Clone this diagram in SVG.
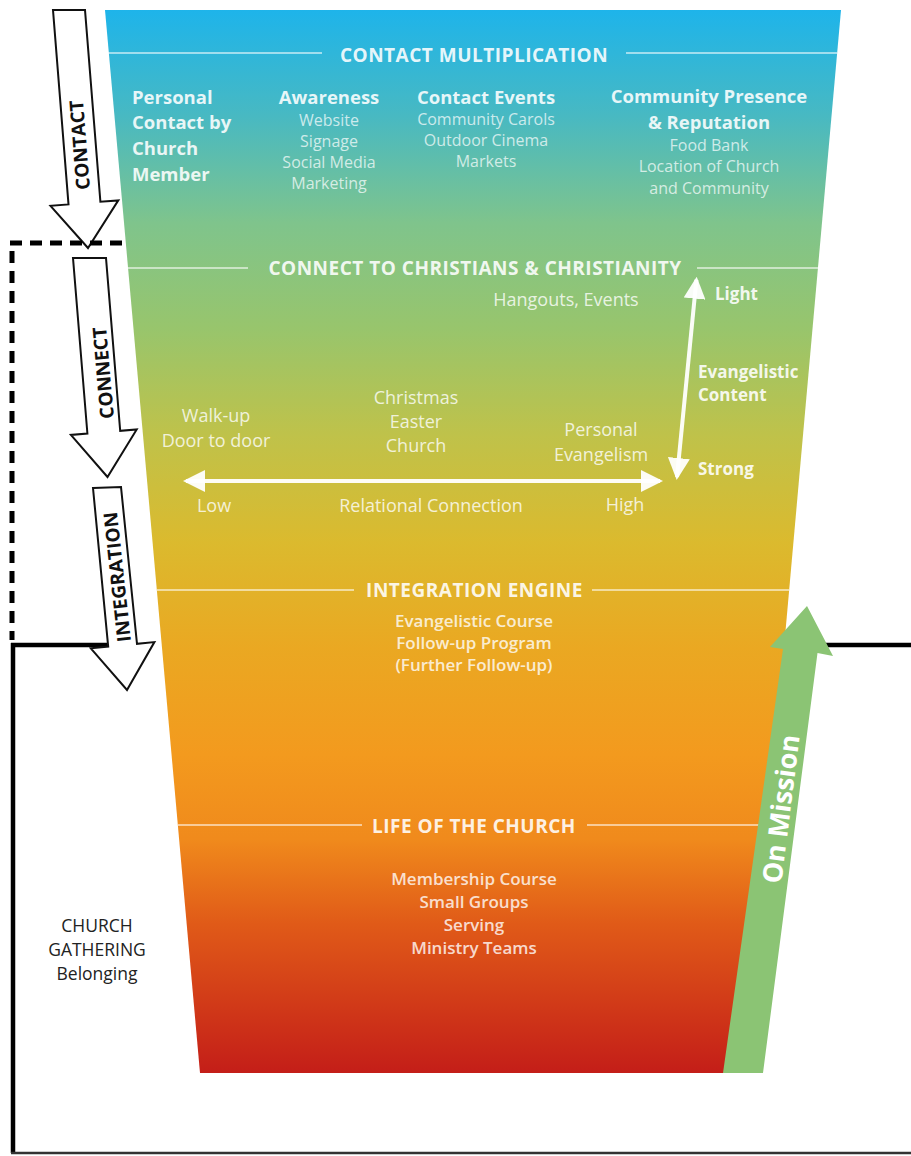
<svg xmlns="http://www.w3.org/2000/svg" width="911" height="1156" viewBox="0 0 911 1156">
<defs>
<linearGradient id="funnelGrad" gradientUnits="userSpaceOnUse" x1="0" y1="10" x2="0" y2="1073">
<stop offset="0" stop-color="#1eb4ea"/>
<stop offset="0.1" stop-color="#48b9c2"/>
<stop offset="0.2" stop-color="#7fc48c"/>
<stop offset="0.3" stop-color="#98c56c"/>
<stop offset="0.4" stop-color="#bfc24a"/>
<stop offset="0.5" stop-color="#dbba2e"/>
<stop offset="0.6" stop-color="#eaa822"/>
<stop offset="0.7" stop-color="#f39a1e"/>
<stop offset="0.78" stop-color="#f08a1c"/>
<stop offset="0.86" stop-color="#e05a18"/>
<stop offset="1" stop-color="#c41e18"/>
</linearGradient>
<marker id="wh" viewBox="0 0 22 22" refX="19" refY="11" markerWidth="22" markerHeight="22" markerUnits="userSpaceOnUse" orient="auto-start-reverse">
<path d="M0,0 L22,11 L0,22 z" fill="#fff" fill-opacity="0.95"/>
</marker>
</defs>
<style>
text { font-family: "Open Sans", "Noto Sans", sans-serif; }
.h { font-size: 19px; font-weight: 700; fill: #fff; fill-opacity: 0.9; letter-spacing: 0.5px; text-anchor: middle; }
.b { font-size: 18.5px; font-weight: 700; fill: #fff; fill-opacity: 0.88; }
.bc { text-anchor: middle; }
.s { font-size: 16px; fill: #fff; fill-opacity: 0.72; text-anchor: middle; }
.m { font-size: 18px; fill: #fff; fill-opacity: 0.8; text-anchor: middle; }
.e { font-size: 17px; font-weight: 700; fill: #fff; fill-opacity: 0.9; }
.sb { font-size: 17px; font-weight: 600; fill: #fff; fill-opacity: 0.8; text-anchor: middle; }
.div { stroke: #fff; stroke-opacity: 0.55; stroke-width: 2; fill: none; }
.stage { fill: #fff; stroke: #111; stroke-width: 2; stroke-linejoin: miter; }
.stage-label { font-size: 19px; font-weight: 700; fill: #111; text-anchor: middle; }
.wline { stroke: #fff; stroke-width: 4; stroke-opacity: 0.95; fill: none; }
.solid { stroke: #000; stroke-width: 4.5; fill: none; }
.dash { stroke: #000; stroke-width: 5; stroke-dasharray: 12 8; fill: none; }
.gather { font-size: 17.5px; fill: #222; text-anchor: middle; }
</style>

<rect x="0" y="0" width="911" height="1156" fill="#fff"/>

<g id="boundary">
<line class="solid" x1="11" y1="645" x2="110" y2="645"/>
<line class="solid" x1="13" y1="643" x2="13" y2="1153"/>
<line class="solid" x1="815" y1="645" x2="911" y2="645"/>
<line x1="11" y1="1153" x2="911" y2="1153" stroke="#333" stroke-width="2.5"/>
</g>

<g id="funnel">
<polygon points="105,10 841,10 746,1073 200,1073" fill="url(#funnelGrad)"/>
</g>

<g id="contact-multiplication">
<line class="div" x1="108" y1="53" x2="322" y2="53"/>
<line class="div" x1="626" y1="53" x2="837" y2="53"/>
<text class="h" x="474" y="62">CONTACT MULTIPLICATION</text>
</g>

<g id="personal-contact">
<text class="b" x="132" y="103.5">Personal</text>
<text class="b" x="132" y="129">Contact by</text>
<text class="b" x="132" y="155">Church</text>
<text class="b" x="132" y="181">Member</text>
</g>

<g id="awareness">
<text class="b bc" x="329" y="104">Awareness</text>
<text class="s" x="329" y="126">Website</text>
<text class="s" x="329" y="147">Signage</text>
<text class="s" x="329" y="168">Social Media</text>
<text class="s" x="329" y="189">Marketing</text>
</g>

<g id="contact-events">
<text class="b bc" x="486" y="104">Contact Events</text>
<text class="s" x="486" y="125">Community Carols</text>
<text class="s" x="486" y="146">Outdoor Cinema</text>
<text class="s" x="486" y="167">Markets</text>
</g>

<g id="community-presence">
<text class="b bc" x="709" y="103">Community Presence</text>
<text class="b bc" x="709" y="129">&amp; Reputation</text>
<text class="s" x="709" y="150.5">Food Bank</text>
<text class="s" x="709" y="172">Location of Church</text>
<text class="s" x="709" y="193.5">and Community</text>
</g>

<g id="connect-section">
<line class="div" x1="128" y1="268" x2="248" y2="268"/>
<line class="div" x1="697" y1="268" x2="818" y2="268"/>
<text class="h" x="475" y="275">CONNECT TO CHRISTIANS &amp; CHRISTIANITY</text>
</g>

<g id="hangouts">
<text class="m" x="566" y="306">Hangouts, Events</text>
</g>
<g id="walk-up">
<text class="m" x="216" y="422">Walk-up</text>
<text class="m" x="216" y="447">Door to door</text>
</g>
<g id="christmas">
<text class="m" x="416" y="404">Christmas</text>
<text class="m" x="416" y="428">Easter</text>
<text class="m" x="416" y="452">Church</text>
</g>
<g id="personal-evangelism">
<text class="m" x="601" y="436">Personal</text>
<text class="m" x="601" y="461">Evangelism</text>
</g>
<g id="relational-axis">
<text class="m" x="214" y="512">Low</text>
<text class="m" x="431" y="512">Relational Connection</text>
<text class="m" x="625" y="511">High</text>
</g>
<g id="content-axis">
<text class="e" x="715" y="299.5">Light</text>
<text class="e" x="698" y="378">Evangelistic</text>
<text class="e" x="698" y="401">Content</text>
<text class="e" x="698" y="475">Strong</text>
</g>

<g id="integration-engine">
<line class="div" x1="157" y1="590" x2="354" y2="590"/>
<line class="div" x1="592" y1="590" x2="789" y2="590"/>
<text class="h" x="474.5" y="597">INTEGRATION ENGINE</text>
<text class="sb" x="474" y="627">Evangelistic Course</text>
<text class="sb" x="474" y="649">Follow-up Program</text>
<text class="sb" x="474" y="671">(Further Follow-up)</text>
</g>

<g id="life-of-the-church">
<line class="div" x1="178" y1="825" x2="362" y2="825"/>
<line class="div" x1="587" y1="825" x2="768" y2="825"/>
<text class="h" x="474" y="833">LIFE OF THE CHURCH</text>
<text class="sb" x="474" y="885">Membership Course</text>
<text class="sb" x="474" y="908">Small Groups</text>
<text class="sb" x="474" y="931">Serving</text>
<text class="sb" x="474" y="954">Ministry Teams</text>
</g>

<g id="church-gathering">
<text class="gather" x="97" y="932">CHURCH</text>
<text class="gather" x="97" y="956">GATHERING</text>
<text class="gather" x="97" y="980">Belonging</text>
</g>

<g id="on-mission">
<polygon points="723,1073 783,649 770,647 807,606 833,656 817.5,653 763,1073" fill="#8bc474"/>
<text transform="translate(781,809) rotate(-82.9)" x="0" y="9.5" font-size="27" font-weight="700" fill="#fff" text-anchor="middle">On Mission</text>
</g>

<g id="stage-contact">
<polygon class="stage" points="53,10 85,10 100.4,201.8 118.3,200.4 88,248 50.5,205.8 68.5,204.4"/>
<text class="stage-label" transform="translate(80,145) rotate(-94.5)" x="0" y="6.5" font-size="18.5">CONTACT</text>
</g>

<g id="stage-connect">
<polygon class="stage" points="73,258 106,258 120.2,430.8 136.7,429.5 107.5,477 70.9,434.9 87.4,433.5"/>
<text class="stage-label" transform="translate(103,373) rotate(-95)" x="0" y="7" font-size="19.5">CONNECT</text>
</g>

<g id="stage-integration">
<polygon class="stage" points="93,488 121,487 137,643.8 154.4,642.1 127,690 90.8,648.3 108.2,646.6"/>
<text class="stage-label" transform="translate(117,577) rotate(-96.2)" x="0" y="7" font-size="20">INTEGRATION</text>
</g>

<g id="dashed-boundary">
<line class="dash" x1="10" y1="243" x2="122" y2="243"/>
<line class="dash" x1="12" y1="251" x2="12" y2="640"/>
</g>

<g id="connectors">
<line class="wline" x1="186" y1="481" x2="660" y2="481" marker-start="url(#wh)" marker-end="url(#wh)"/>
<line class="wline" x1="696.4" y1="279.7" x2="677" y2="477" marker-start="url(#wh)" marker-end="url(#wh)"/>
</g>
</svg>
